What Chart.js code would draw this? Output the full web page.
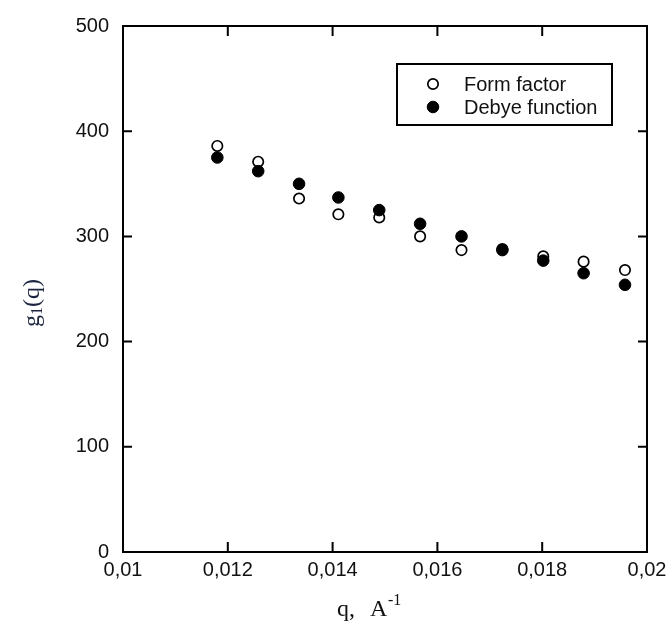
<!DOCTYPE html>
<html lang="en">

<head>
    <meta charset="UTF-8">
    <title>g1(q)</title>
    <script src="https://cdn.jsdelivr.net/npm/chart.js"></script>
    <style>
        body { margin: 0; background: #fff; }
        .box { width: 672px; height: 635px; }
    </style>
</head>

<body>
    <div class="box">
        <canvas id="myChart" width="672" height="635"></canvas>
    </div>
</body>

<script>
    // valores
    var qValues = [0.01180, 0.01258, 0.01336, 0.01411, 0.01489, 0.01567, 0.01646, 0.01724, 0.01802, 0.01879, 0.01958];
    var formFactor = [386, 371, 336, 321, 318, 300, 287, 288, 281, 276, 268];
    var debyeFunction = [375, 362, 350, 337, 325, 312, 300, 287, 277, 265, 254];

    var xTickValues = [0.01, 0.012, 0.014, 0.016, 0.018, 0.02];
    var xTickLabels = ['0,01', '0,012', '0,014', '0,016', '0,018', '0,02'];
    var yTickValues = [0, 100, 200, 300, 400, 500];
    var yTickLabels = ['0', '100', '200', '300', '400', '500'];

    function pontos(valores) {
        var lista = [];
        for (let i = 0; i < qValues.length; i++) {
            lista.push({ x: qValues[i], y: valores[i] });
        }
        return lista;
    }

    // moldura, ticks internos, legenda e títulos dos eixos
    const extras = {
        id: 'extras',
        afterDraw(chart) {
            const ctx = chart.ctx;
            const a = chart.chartArea;
            const sx = chart.scales.x;
            const sy = chart.scales.y;
            ctx.save();
            ctx.strokeStyle = '#000';
            ctx.lineWidth = 2;
            ctx.strokeRect(a.left, a.top, a.right - a.left, a.bottom - a.top);

            ctx.beginPath();
            sx.ticks.forEach((t) => {
                const px = sx.getPixelForValue(t.value);
                ctx.moveTo(px, a.bottom); ctx.lineTo(px, a.bottom - 10);
                ctx.moveTo(px, a.top); ctx.lineTo(px, a.top + 10);
            });
            sy.ticks.forEach((t) => {
                const py = sy.getPixelForValue(t.value);
                ctx.moveTo(a.left, py); ctx.lineTo(a.left + 9, py);
                ctx.moveTo(a.right, py); ctx.lineTo(a.right - 9, py);
            });
            ctx.stroke();

            // legenda
            ctx.lineWidth = 2;
            ctx.strokeRect(397, 64, 215, 61);
            const itens = [chart.data.datasets[1], chart.data.datasets[0]];
            ctx.font = '20px "Liberation Sans"';
            ctx.textBaseline = 'middle';
            ctx.textAlign = 'left';
            itens.forEach((ds, i) => {
                const y = 84 + i * 23;
                ctx.beginPath();
                ctx.arc(433, y, ds.pointRadius, 0, Math.PI * 2);
                ctx.fillStyle = ds.pointBackgroundColor;
                ctx.fill();
                ctx.lineWidth = ds.pointBorderWidth;
                ctx.strokeStyle = '#000';
                ctx.stroke();
                ctx.fillStyle = '#111';
                ctx.fillText(ds.label, 464, y + 1);
            });

            // título eixo x: q, A^-1
            ctx.fillStyle = '#111';
            ctx.textBaseline = 'alphabetic';
            ctx.font = '24px "Liberation Serif"';
            ctx.fillText('q,', 337, 616);
            ctx.fillText('A', 370, 616);
            ctx.font = '16px "Liberation Serif"';
            ctx.fillText('-1', 388, 605);

            // título eixo y: g1(q)
            ctx.translate(39, 303);
            ctx.rotate(-Math.PI / 2);
            ctx.fillStyle = '#1c2440';
            ctx.font = '24px "Liberation Serif"';
            const w1 = ctx.measureText('g').width;
            ctx.font = '16px "Liberation Serif"';
            const w2 = ctx.measureText('1').width;
            ctx.font = '24px "Liberation Serif"';
            const w3 = ctx.measureText('(q)').width;
            let x0 = -(w1 + w2 + w3) / 2;
            ctx.fillText('g', x0, 0);
            ctx.font = '16px "Liberation Serif"';
            ctx.fillText('1', x0 + w1, 3);
            ctx.font = '24px "Liberation Serif"';
            ctx.fillText('(q)', x0 + w1 + w2, 0);
            ctx.restore();
        }
    };

    const ctx = document.getElementById('myChart');

    new Chart(ctx, {
        type: 'scatter',
        data: {
            datasets: [{
                label: 'Debye function',
                data: pontos(debyeFunction),
                pointRadius: 5.8,
                pointBackgroundColor: '#000',
                pointBorderColor: '#000',
                pointBorderWidth: 1,
                order: 0
            }, {
                label: 'Form factor',
                data: pontos(formFactor),
                pointRadius: 5.2,
                pointBackgroundColor: '#fff',
                pointBorderColor: '#000',
                pointBorderWidth: 1.7,
                order: 1
            }]
        },
        options: {
            responsive: false,
            animation: false,
            layout: { padding: { top: 25, right: 25, left: 0, bottom: 0 } },
            plugins: {
                legend: { display: false },
                tooltip: { enabled: false }
            },
            scales: {
                x: {
                    type: 'linear',
                    min: 0.01,
                    max: 0.02,
                    grid: { display: false, drawTicks: false },
                    border: { display: false },
                    afterBuildTicks: (scale) => {
                        scale.ticks = xTickValues.map((v) => ({ value: v }));
                    },
                    afterFit: (scale) => {
                        scale.height = 83;
                        scale.paddingLeft = 0;
                        scale.paddingRight = 0;
                    },
                    ticks: {
                        padding: 6,
                        color: '#111',
                        maxRotation: 0,
                        font: { family: 'Liberation Sans', size: 20 },
                        callback: (v, i) => xTickLabels[i]
                    }
                },
                y: {
                    min: 0,
                    max: 500,
                    grid: { display: false, drawTicks: false },
                    border: { display: false },
                    afterBuildTicks: (scale) => {
                        scale.ticks = yTickValues.map((v) => ({ value: v }));
                    },
                    afterFit: (scale) => { scale.width = 123; },
                    ticks: {
                        padding: 14,
                        color: '#111',
                        font: { family: 'Liberation Sans', size: 20 },
                        callback: (v, i) => yTickLabels[i]
                    }
                }
            }
        },
        plugins: [extras]
    });
</script>

</html>
